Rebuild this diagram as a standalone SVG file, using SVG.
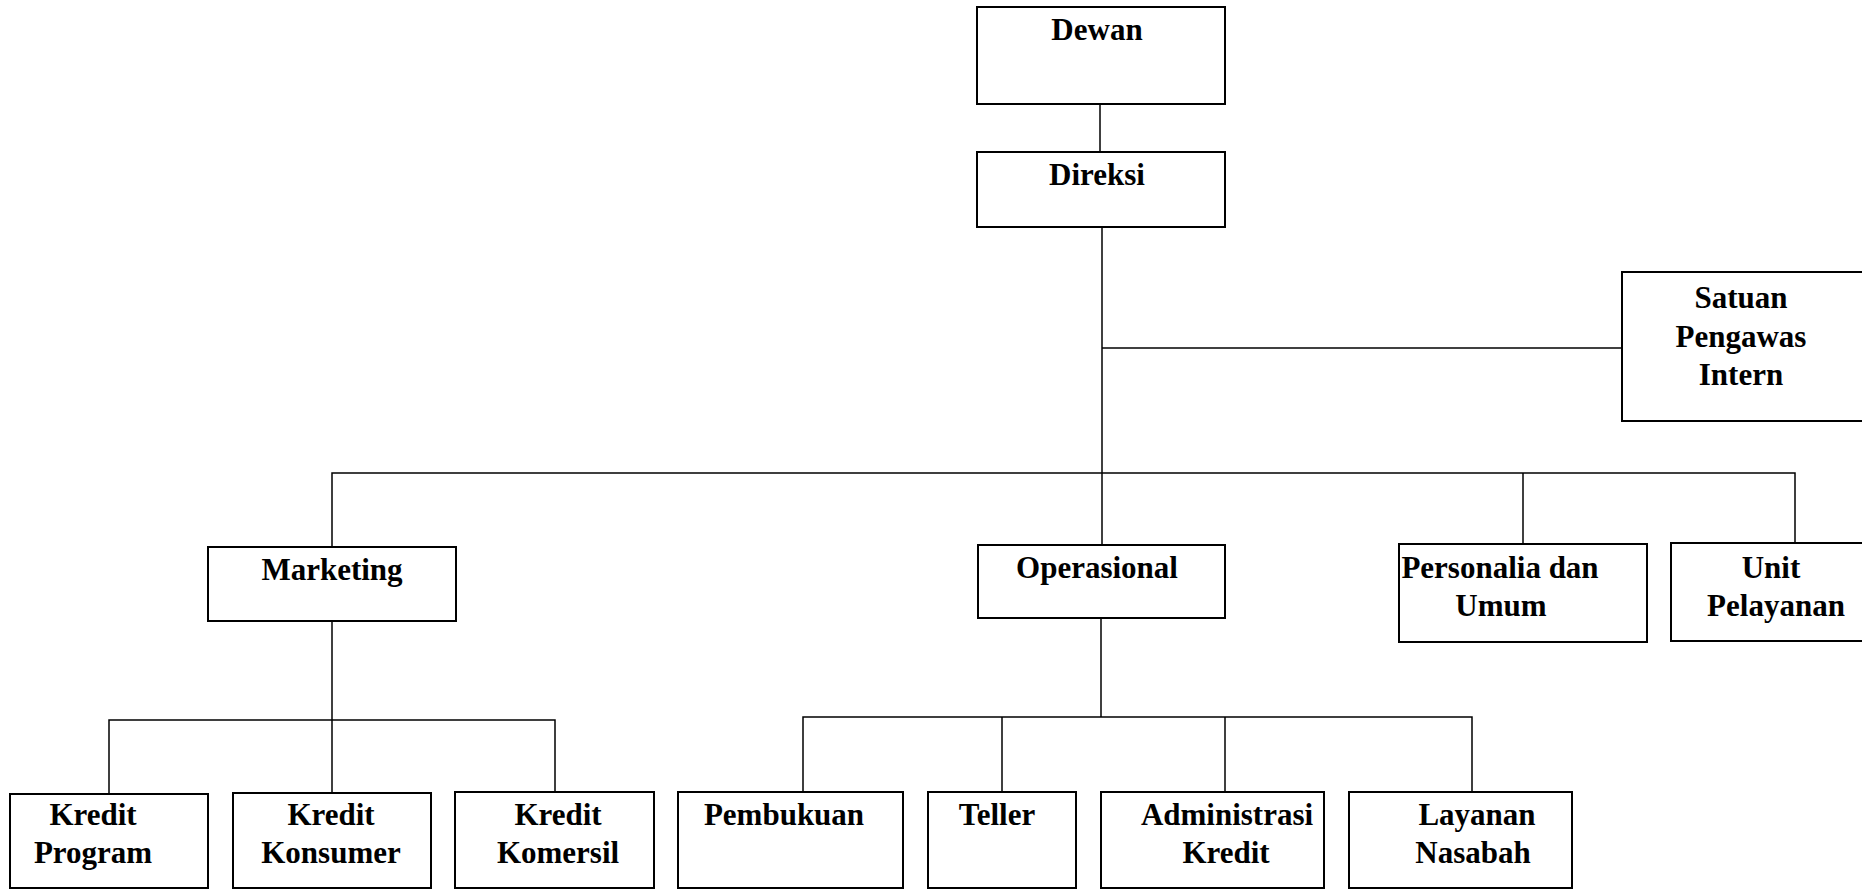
<svg xmlns="http://www.w3.org/2000/svg" width="1862" height="891" viewBox="0 0 1862 891">
<style>
.box{fill:#fff;stroke:#000;stroke-width:2}
.t{font-family:"Liberation Serif","Times New Roman",serif;font-weight:bold;font-size:31px;fill:#000;text-anchor:middle}
.c{fill:none;stroke:#000;stroke-width:1.5}
</style>
<rect width="1862" height="891" fill="#fff"/>
<g id="connectors">
<line class="c" x1="1100" y1="104" x2="1100" y2="152"/>
<line class="c" x1="1102" y1="227" x2="1102" y2="545"/>
<line class="c" x1="1102" y1="348" x2="1622" y2="348"/>
<polyline class="c" points="332,547 332,473 1795,473 1795,543"/>
<line class="c" x1="1523" y1="473" x2="1523" y2="544"/>
<polyline class="c" points="109,794 109,720 555,720 555,792"/>
<line class="c" x1="332" y1="621" x2="332" y2="793"/>
<polyline class="c" points="803,792 803,717 1472,717 1472,792"/>
<line class="c" x1="1101" y1="618" x2="1101" y2="717"/>
<line class="c" x1="1002" y1="717" x2="1002" y2="792"/>
<line class="c" x1="1225" y1="717" x2="1225" y2="792"/>
</g>
<g id="dewan"><rect class="box" x="977" y="7" width="248" height="97"/><text class="t" x="1097" y="40">Dewan</text></g>
<g id="direksi"><rect class="box" x="977" y="152" width="248" height="75"/><text class="t" x="1097" y="185">Direksi</text></g>
<g id="satuan"><rect class="box" x="1622" y="272" width="250" height="149"/><text class="t" x="1741" y="308">Satuan</text><text class="t" x="1741" y="347">Pengawas</text><text class="t" x="1741" y="385">Intern</text></g>
<g id="marketing"><rect class="box" x="208" y="547" width="248" height="74"/><text class="t" x="332" y="580">Marketing</text></g>
<g id="operasional"><rect class="box" x="978" y="545" width="247" height="73"/><text class="t" x="1097" y="578">Operasional</text></g>
<g id="personalia"><rect class="box" x="1399" y="544" width="248" height="98"/><text class="t" x="1500" y="578">Personalia dan</text><text class="t" x="1501" y="616">Umum</text></g>
<g id="unit"><rect class="box" x="1671" y="543" width="200" height="98"/><text class="t" x="1771" y="578">Unit</text><text class="t" x="1776" y="616">Pelayanan</text></g>
<g id="kredit-program"><rect class="box" x="10" y="794" width="198" height="94"/><text class="t" x="93" y="825">Kredit</text><text class="t" x="93" y="863">Program</text></g>
<g id="kredit-konsumer"><rect class="box" x="233" y="793" width="198" height="95"/><text class="t" x="331" y="825">Kredit</text><text class="t" x="331" y="863">Konsumer</text></g>
<g id="kredit-komersil"><rect class="box" x="455" y="792" width="199" height="96"/><text class="t" x="558" y="825">Kredit</text><text class="t" x="558" y="863">Komersil</text></g>
<g id="pembukuan"><rect class="box" x="678" y="792" width="225" height="96"/><text class="t" x="784" y="825">Pembukuan</text></g>
<g id="teller"><rect class="box" x="928" y="792" width="148" height="96"/><text class="t" x="997" y="825">Teller</text></g>
<g id="administrasi"><rect class="box" x="1101" y="792" width="223" height="96"/><text class="t" x="1227" y="825">Administrasi</text><text class="t" x="1226" y="863">Kredit</text></g>
<g id="layanan"><rect class="box" x="1349" y="792" width="223" height="96"/><text class="t" x="1477" y="825">Layanan</text><text class="t" x="1473" y="863">Nasabah</text></g>
</svg>
